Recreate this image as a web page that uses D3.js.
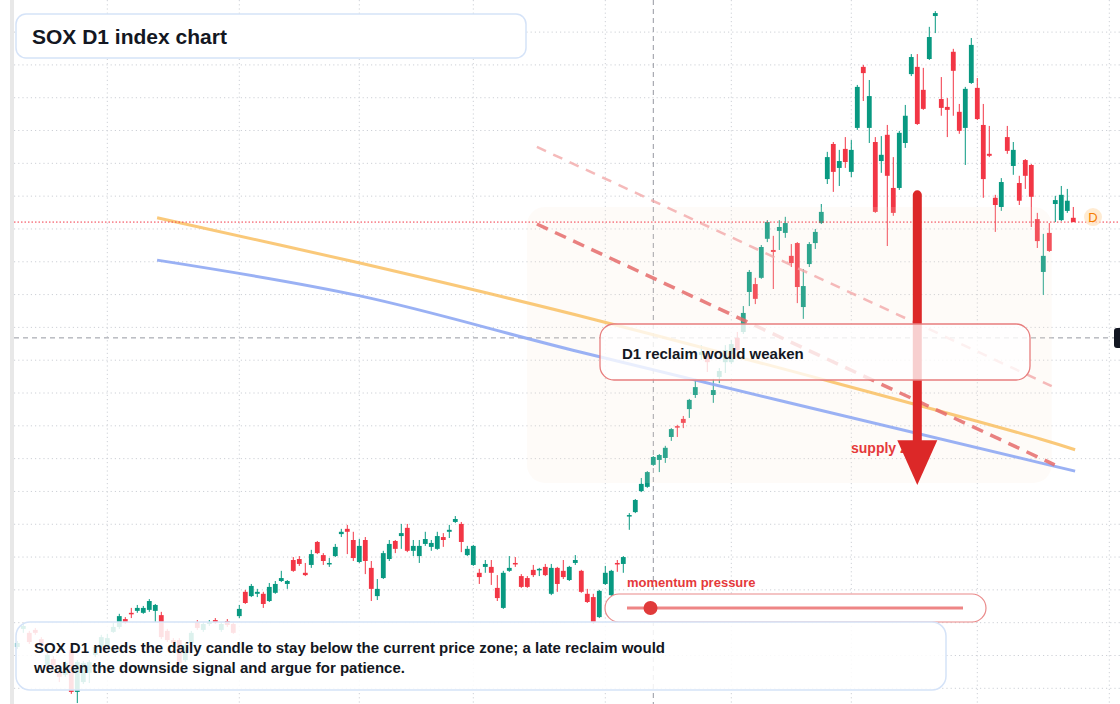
<!DOCTYPE html>
<html>
<head>
<meta charset="utf-8">
<script src="https://cdn.jsdelivr.net/npm/d3@7"></script>
<style>
html, body { margin: 0; padding: 0; background: #fff; overflow: hidden; }
svg { display: block; font-family: "Liberation Sans", Arial, sans-serif; }
</style>
</head>
<body>
<div id="chart"></div>
<script>
// daily candles, oldest first
var opens = [5526,5581,5569,5578,5550,5471,5489,5450,5441,5517,5389,5419,5447,5502,5526,5529,5572,5587,5611,5630,
	5636,5630,5639,5636,5623,5575,5547,5547,5486,5538,5602,5578,5596,5608,5578,5605,5596,5620,5694,5681,
	5688,5688,5666,5691,5727,5718,5791,5794,5752,5776,5846,5806,5779,5803,5870,5886,5852,5785,5852,5767,
	5681,5736,5794,5849,5864,5889,5819,5803,5840,5831,5825,5861,5877,5907,5901,5806,5776,5752,5770,5770,
	5706,5645,5758,5782,5742,5736,5761,5761,5770,5688,5767,5758,5730,5782,5758,5688,5678,5617,5718,5684,
	5782,5779,5925,5937,6001,6014,6081,6096,6102,6166,6199,6221,6251,6294,6416,6422,6294,6349,6394,6394,
	6468,6486,6608,6632,6651,6770,6736,6794,6788,6718,6757,6562,6693,6757,6818,6952,7059,6986,7044,6974,
	7108,7294,7108,7065,7007,7087,6925,6925,7062,7272,7294,7224,7318,7449,7196,7172,7340,7157,7108,7245,
	7230,7117,7029,6895,6867,7080,6992,6940,7010,6995,6830,6669,6788,6876,6827,6855,6834];
var highs = [5544,5596,5575,5584,5556,5511,5498,5456,5483,5523,5486,5483,5486,5532,5563,5566,5599,5627,5617,5645,
	5654,5651,5672,5657,5633,5581,5553,5553,5538,5575,5608,5602,5608,5614,5602,5611,5602,5654,5700,5718,
	5703,5694,5721,5727,5758,5730,5800,5803,5782,5822,5849,5812,5797,5840,5886,5898,5877,5855,5861,5788,
	5733,5819,5852,5852,5901,5901,5852,5852,5877,5852,5877,5873,5898,5925,5907,5834,5837,5764,5791,5791,
	5745,5758,5803,5800,5748,5742,5776,5767,5779,5779,5770,5791,5773,5806,5761,5703,5688,5700,5773,5761,
	5791,5803,5934,5977,6041,6062,6108,6114,6139,6193,6203,6230,6282,6343,6446,6434,6343,6376,6446,6462,
	6486,6565,6675,6651,6751,6827,6779,6827,6837,6754,6760,6678,6760,6800,6876,7035,7065,7041,7080,7071,
	7239,7300,7254,7080,7083,7117,7019,7099,7178,7333,7333,7291,7416,7464,7263,7199,7349,7181,7233,7382,
	7260,7181,7114,6904,6955,7114,7065,6962,7013,6998,6849,6785,6818,6901,6931,6922,6867];
var lows = [5520,5569,5535,5563,5523,5465,5462,5419,5435,5383,5355,5413,5416,5495,5517,5520,5569,5581,5596,5614,
	5630,5627,5633,5602,5550,5541,5532,5471,5480,5532,5578,5572,5590,5596,5572,5587,5566,5614,5657,5678,
	5678,5645,5663,5688,5724,5703,5755,5773,5742,5767,5809,5776,5770,5800,5861,5809,5788,5782,5748,5666,
	5669,5733,5788,5812,5825,5815,5803,5782,5834,5819,5822,5831,5858,5904,5815,5803,5773,5718,5752,5715,
	5666,5642,5755,5770,5706,5706,5739,5742,5742,5684,5694,5733,5727,5776,5691,5660,5596,5614,5715,5681,
	5755,5752,5883,5934,5998,6011,6078,6059,6087,6154,6166,6193,6224,6285,6401,6364,6270,6330,6361,6388,
	6425,6480,6565,6571,6648,6760,6617,6736,6773,6684,6574,6526,6684,6739,6815,6937,6913,6931,6986,6958,
	7102,7190,7062,6849,6971,6748,6840,6919,7047,7266,7117,7163,7315,7397,7145,7080,7145,7090,6995,7242,
	7132,6895,7019,6791,6855,7029,6965,6873,6922,6806,6742,6599,6730,6821,6824,6849,6821];
var closes = [5538,5590,5541,5569,5529,5502,5471,5435,5477,5389,5480,5477,5480,5526,5556,5553,5587,5620,5602,5627,
	5645,5645,5666,5654,5556,5547,5538,5477,5532,5569,5584,5596,5602,5602,5596,5593,5569,5642,5660,5712,
	5694,5657,5709,5718,5736,5727,5758,5779,5745,5809,5812,5788,5782,5831,5877,5877,5797,5834,5788,5703,
	5703,5812,5840,5825,5873,5819,5834,5834,5855,5843,5864,5852,5883,5916,5846,5825,5834,5739,5779,5752,
	5675,5752,5767,5779,5709,5709,5745,5764,5745,5767,5718,5739,5770,5791,5694,5663,5602,5697,5752,5758,
	5779,5800,5928,5974,6023,6059,6105,6111,6133,6190,6196,6209,6279,6318,6425,6394,6309,6367,6431,6449,
	6431,6544,6669,6587,6745,6821,6730,6806,6818,6696,6623,6626,6754,6791,6852,7019,6974,7007,7004,7041,
	7233,7275,7205,6852,7026,6962,6849,7093,7145,7324,7120,7166,7385,7458,7169,7163,7282,7099,7227,7361,
	7135,6952,7023,6873,6943,7038,7041,6886,6962,6898,6763,6718,6733,6888,6904,6886,6821];

// candle index of the first session of each month (vertical grid)
var monthStarts = [15, 37, 57, 76, 98, 119, 139, 160, 182];
var gridPrices = d3.range(5400, 7500, 100);

var lastPrice = 6821, crossIndex = 106, crossPrice = 6468;

// [candle index, price]
var resistanceLine = [[23.3, 6834], [57.1, 6696], [96.6, 6522], [170.5, 6160], [176.3, 6127]];
var averageLine = [[23.3, 6705], [57.1, 6596], [93.8, 6425], [170.5, 6087], [176.3, 6062]];
var channelUpper = [[86.6, 7050], [172.4, 6321]];
var channelLower = [[86.6, 6815], [172.9, 6081]];
var supplyZone = [84.95, 172.4, 6867, 6026]; // from, to, top, bottom
var arrowIndex = 150, arrowFrom = 6904, arrowHeadBase = 6156, arrowTo = 6020;
var momentumValue = 0.07;

var W = 1120, H = 704,
	UP = "#089981", DOWN = "#f23645",
	GRID = "#cdd0d6", INK = "#131722";

var svg = d3.select("#chart").append("svg")
	.attr("width", W)
	.attr("height", H);

var x = d3.scaleLinear().domain([0, 176]).range([17.3, 1073.3]);
var y = d3.scaleLinear().domain([7400, 5400]).range([32.1, 688.3]);

svg.append("rect").attr("width", W).attr("height", H).attr("fill", "#fff");
svg.append("rect").attr("x", 10).attr("width", 4).attr("height", H).attr("fill", "#e8e8e8");

// grid
svg.append("g").selectAll("line")
	.data(gridPrices)
	.enter().append("line")
	.attr("x1", 14).attr("x2", W)
	.attr("y1", function(d) { return y(d); })
	.attr("y2", function(d) { return y(d); })
	.attr("stroke", GRID)
	.attr("stroke-dasharray", "1.2,3");
svg.append("g").selectAll("line")
	.data(monthStarts)
	.enter().append("line")
	.attr("x1", function(d) { return x(d); })
	.attr("x2", function(d) { return x(d); })
	.attr("y1", 0).attr("y2", H)
	.attr("stroke", GRID)
	.attr("stroke-dasharray", "1.2,3");

// crosshair
svg.append("line")
	.attr("x1", 14).attr("x2", 1114)
	.attr("y1", y(crossPrice)).attr("y2", y(crossPrice))
	.attr("stroke", "#9598a1").attr("stroke-dasharray", "5,4");
svg.append("line")
	.attr("x1", x(crossIndex)).attr("x2", x(crossIndex))
	.attr("y1", 0).attr("y2", H)
	.attr("stroke", "#9598a1").attr("stroke-dasharray", "5,4");

// candles
var candles = opens.map(function(o, i) {
	return {i: i, o: o, h: highs[i], l: lows[i], c: closes[i]};
});
var cg = svg.append("g").selectAll("g")
	.data(candles)
	.enter().append("g")
	.attr("fill", function(d) { return d.c >= d.o ? UP : DOWN; })
	.attr("stroke", function(d) { return d.c >= d.o ? UP : DOWN; });
cg.append("line")
	.attr("x1", function(d) { return x(d.i); })
	.attr("x2", function(d) { return x(d.i); })
	.attr("y1", function(d) { return y(d.h); })
	.attr("y2", function(d) { return y(d.l); })
	.attr("stroke-width", 1);
cg.append("rect")
	.attr("x", function(d) { return x(d.i) - 2.4; })
	.attr("width", 4.8)
	.attr("y", function(d) { return y(Math.max(d.o, d.c)); })
	.attr("height", function(d) { return Math.max(1.5, Math.abs(y(d.o) - y(d.c))); })
	.attr("stroke", "none");

// supply zone wash
svg.append("rect")
	.attr("x", x(supplyZone[0]))
	.attr("width", x(supplyZone[1]) - x(supplyZone[0]))
	.attr("y", y(supplyZone[2]))
	.attr("height", y(supplyZone[3]) - y(supplyZone[2]))
	.attr("rx", 18)
	.attr("fill", "#f6e6d6")
	.attr("fill-opacity", 0.16);

var line = d3.line()
	.x(function(d) { return x(d[0]); })
	.y(function(d) { return y(d[1]); })
	.curve(d3.curveCatmullRom);

svg.append("path").datum(averageLine)
	.attr("d", line).attr("fill", "none")
	.attr("stroke", "#8fa9f3").attr("stroke-width", 3).attr("stroke-opacity", 0.9);
svg.append("path").datum(resistanceLine)
	.attr("d", line).attr("fill", "none")
	.attr("stroke", "#f9bf63").attr("stroke-width", 3).attr("stroke-opacity", 0.85);
svg.append("path").datum(channelUpper)
	.attr("d", line).attr("fill", "none")
	.attr("stroke", "#f3a9a9").attr("stroke-width", 2.5).attr("stroke-opacity", 0.8)
	.attr("stroke-dasharray", "10,8");
svg.append("path").datum(channelLower)
	.attr("d", line).attr("fill", "none")
	.attr("stroke", "#e56b6b").attr("stroke-width", 3.5).attr("stroke-opacity", 0.85)
	.attr("stroke-dasharray", "12,8");

// last price
svg.append("line")
	.attr("x1", 14).attr("x2", W)
	.attr("y1", y(lastPrice)).attr("y2", y(lastPrice))
	.attr("stroke", DOWN).attr("stroke-dasharray", "1.5,2");
svg.append("circle")
	.attr("cx", 1093).attr("cy", y(lastPrice) - 5).attr("r", 9)
	.attr("fill", "#ffe3bf").attr("fill-opacity", 0.7);
svg.append("text")
	.attr("x", 1093).attr("y", y(lastPrice) - 0.5)
	.attr("text-anchor", "middle")
	.attr("font-size", 13).attr("fill", "#f57c00")
	.text("D");

svg.append("text")
	.attr("x", 851).attr("y", 453)
	.attr("font-size", 14).attr("font-weight", "bold").attr("fill", "#e5393b")
	.text("supply zone");

// arrow
var ax = x(arrowIndex);
svg.append("line")
	.attr("x1", ax).attr("x2", ax)
	.attr("y1", y(arrowFrom)).attr("y2", y(arrowHeadBase) + 2)
	.attr("stroke", "#dc2828").attr("stroke-width", 9).attr("stroke-linecap", "round");
svg.append("path")
	.attr("d", "M" + (ax - 20) + "," + y(arrowHeadBase) + "L" + (ax + 20) + "," + y(arrowHeadBase) +
		"L" + ax + "," + y(arrowTo) + "Z")
	.attr("fill", "#dc2828");

// reclaim note
svg.append("rect")
	.attr("x", 600).attr("y", 324).attr("width", 430).attr("height", 56).attr("rx", 14)
	.attr("fill", "#fff").attr("fill-opacity", 0.78)
	.attr("stroke", "#e77d7d").attr("stroke-width", 1.3);
svg.append("text")
	.attr("x", 622).attr("y", 359)
	.attr("font-size", 15).attr("font-weight", "bold").attr("fill", INK)
	.text("D1 reclaim would weaken");

// momentum gauge
svg.append("text")
	.attr("x", 627).attr("y", 587)
	.attr("font-size", 13).attr("font-weight", "bold").attr("fill", "#e5393b")
	.text("momentum pressure");
svg.append("rect")
	.attr("x", 605).attr("y", 594).attr("width", 381).attr("height", 28).attr("rx", 14)
	.attr("fill", "#fff")
	.attr("stroke", "#ea8a8a").attr("stroke-width", 1.2);
var m = d3.scaleLinear().domain([0, 1]).range([627, 963]);
svg.append("line")
	.attr("x1", m(0)).attr("x2", m(1)).attr("y1", 608).attr("y2", 608)
	.attr("stroke", "#ee8585").attr("stroke-width", 3);
svg.append("circle")
	.attr("cx", m(momentumValue)).attr("cy", 608).attr("r", 7)
	.attr("fill", "#e03a3a");

// title
svg.append("rect")
	.attr("x", 16).attr("y", 14).attr("width", 510).attr("height", 44).attr("rx", 10)
	.attr("fill", "#fff").attr("stroke", "#d5e3f8").attr("stroke-width", 1.5);
svg.append("text")
	.attr("x", 32).attr("y", 44)
	.attr("font-size", 21).attr("font-weight", "bold").attr("fill", INK)
	.text("SOX D1 index chart");

// bottom note
svg.append("rect")
	.attr("x", 16).attr("y", 622).attr("width", 930).attr("height", 68).attr("rx", 14)
	.attr("fill", "#fff").attr("fill-opacity", 0.86)
	.attr("stroke", "#d5e3f8").attr("stroke-width", 1.5);
svg.append("text")
	.attr("x", 34).attr("y", 653)
	.attr("font-size", 15).attr("font-weight", "bold").attr("fill", INK)
	.text("SOX D1 needs the daily candle to stay below the current price zone; a late reclaim would");
svg.append("text")
	.attr("x", 34).attr("y", 673)
	.attr("font-size", 15).attr("font-weight", "bold").attr("fill", INK)
	.text("weaken the downside signal and argue for patience.");

// crosshair price tag, cut by the right edge
svg.append("rect")
	.attr("x", 1114).attr("y", y(crossPrice) - 10).attr("width", 40).attr("height", 20).attr("rx", 3)
	.attr("fill", INK);
</script>
</body>
</html>
